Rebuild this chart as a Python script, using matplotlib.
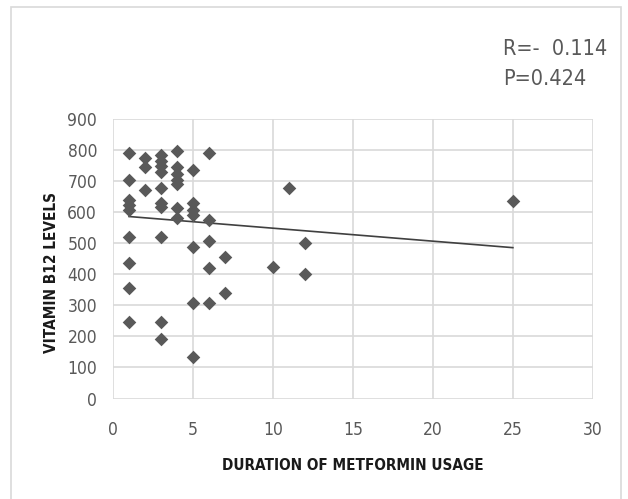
import matplotlib
matplotlib.use("Agg")
import matplotlib.pyplot as plt
from matplotlib.patches import Rectangle
import numpy as np

# duration of metformin usage (years) and vitamin B12 levels
duration = [1, 1, 1, 1, 1, 1, 1, 1, 1,
            2, 2, 2,
            3, 3, 3, 3, 3, 3, 3, 3, 3, 3,
            4, 4, 4, 4, 4, 4, 4,
            5, 5, 5, 5, 5, 5, 5,
            6, 6, 6, 6, 6,
            7, 7,
            10, 11, 12, 12, 25]
b12 = [789, 702, 640, 623, 607, 521, 437, 357, 247,
       773, 746, 670,
       784, 765, 748, 729, 678, 630, 617, 521, 247, 190,
       797, 746, 724, 704, 691, 613, 580,
       737, 628, 606, 590, 487, 308, 134,
       792, 575, 507, 420, 308,
       456, 340,
       422, 679, 500, 401, 635]

stats_text = "R=-  0.114\nP=0.424"
xticks = [0, 5, 10, 15, 20, 25, 30]
yticks = list(range(0, 1000, 100))

grey = "#595959"
gridc = "#d9d9d9"

fig = plt.figure(figsize=(6.28, 4.99), dpi=100)
ax = fig.add_axes([0.18, 0.2014, 0.764, 0.5601])

# outer chart border
fig.patches.append(Rectangle((11/628, -0.01), 610/628, 1 - 7/499 + 0.01,
                             transform=fig.transFigure, fill=False,
                             edgecolor=gridc, linewidth=1.2))

ax.scatter(duration, b12, marker="D", s=48, color=grey, zorder=3, linewidths=0)

# linear trend line
x = np.array(duration, dtype=float)
y = np.array(b12, dtype=float)
m, c = np.polyfit(x, y, 1)
xs = np.array([x.min(), x.max()])
ax.plot(xs, m * xs + c, color="#404040", lw=1.2, zorder=2)

ax.set_xlim(0, 30)
ax.set_ylim(0, 900)
ax.set_xticks(xticks)
ax.set_yticks(yticks)
ax.grid(True, color=gridc, lw=1.2)
ax.set_axisbelow(True)
for s in ax.spines.values():
    s.set_visible(False)
ax.tick_params(length=0, colors=grey, labelsize=12.5)
ax.tick_params(axis="x", pad=16)
ax.tick_params(axis="y", pad=11.5)
for lab in ax.get_xticklabels() + ax.get_yticklabels():
    lab.set_fontstretch("condensed")

ax.set_xlabel("DURATION OF METFORMIN USAGE", fontsize=11, fontweight="bold",
              fontstretch="condensed", color="#1a1a1a", labelpad=14)
ax.set_ylabel("VITAMIN B12 LEVELS", fontsize=11, fontweight="bold",
              fontstretch="condensed", color="#1a1a1a")
ax.yaxis.set_label_coords(-0.113, 0.45)

fig.text(0.801, 0.922, stats_text, fontsize=15.5, color=grey,
         fontstretch="condensed", va="top", ha="left", linespacing=1.6)

fig.savefig("out.png", dpi=100)
